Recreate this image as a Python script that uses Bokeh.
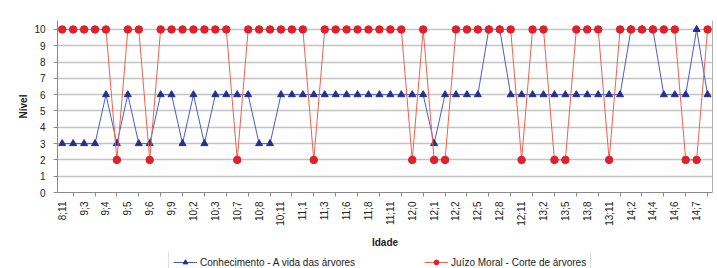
import math
from bokeh.plotting import figure
from bokeh.layouts import column
from bokeh.models import FixedTicker, Legend, LegendItem, LinearAxis, Range1d
from bokeh.embed import file_html
from bokeh.resources import INLINE

# Age labels (years;months) shown on every second point
age_labels = ["8;11", "9;3", "9;4", "9;5", "9;6", "9;9", "10;2", "10;3", "10;7", "10;8",
              "10;11", "11;1", "11;3", "11;6", "11;8", "11;11", "12;0", "12;1", "12;2", "12;5",
              "12;8", "12;11", "13;2", "13;5", "13;8", "13;11", "14;2", "14;4", "14;6", "14;7"]

conhecimento = [3, 3, 3, 3, 6, 3, 6, 3, 3, 6,
                6, 3, 6, 3, 6, 6, 6, 6, 3, 3,
                6, 6, 6, 6, 6, 6, 6, 6, 6, 6,
                6, 6, 6, 6, 3, 6, 6, 6, 6, 10,
                10, 6, 6, 6, 6, 6, 6, 6, 6, 6,
                6, 6, 10, 10, 10, 6, 6, 6, 10, 6]

juizo = [10, 10, 10, 10, 10, 2, 10, 10, 2, 10,
         10, 10, 10, 10, 10, 10, 2, 10, 10, 10,
         10, 10, 10, 2, 10, 10, 10, 10, 10, 10,
         10, 10, 2, 10, 2, 2, 10, 10, 10, 10,
         10, 10, 2, 10, 10, 2, 2, 10, 10, 10,
         2, 10, 10, 10, 10, 10, 10, 2, 2, 10]

series_names = ["Conhecimento - A vida das árvores", "Juízo Moral - Corte de árvores"]

y_ticks = list(range(0, 11))
idx = list(range(len(conhecimento)))

FONT = "Liberation Sans"
BLUE_LINE, BLUE_MARK = "#4a5cc4", "#24308f"
RED_LINE, RED_MARK = "#f0604e", "#e0202a"


def draw_series(fig):
    r = []
    r.append(fig.line(idx, conhecimento, line_color=BLUE_LINE, line_width=1))
    r.append(fig.scatter(idx, conhecimento, marker="triangle", size=7,
                         fill_color=BLUE_MARK, line_color=BLUE_MARK))
    r.append(fig.line(idx, juizo, line_color=RED_LINE, line_width=1))
    r.append(fig.scatter(idx, juizo, marker="circle", size=7.5,
                         fill_color=RED_MARK, line_color=RED_MARK))
    return r


p = figure(width=717, height=252, output_backend="svg", toolbar_location=None,
           x_range=Range1d(-0.43, len(idx) - 0.55), y_range=Range1d(0, 10.55),
           min_border_left=57, min_border_right=5, min_border_top=20, min_border_bottom=60)
p.outline_line_color = None
p.background_fill_color = "white"
p.border_fill_color = "white"

# grid
p.xgrid.visible = False
p.ygrid.ticker = FixedTicker(ticks=y_ticks)
p.ygrid.grid_line_color = "#c4c4c4"
p.ygrid.grid_line_width = 1.5

# y axis
ya = p.yaxis[0]
ya.ticker = FixedTicker(ticks=y_ticks)
ya.axis_line_color = "#8a8a8a"
ya.major_tick_line_color = "#8a8a8a"
ya.major_tick_out = 4
ya.major_tick_in = 0
ya.minor_tick_line_color = None
ya.major_label_text_font = FONT
ya.major_label_text_font_size = "10px"
ya.major_label_text_color = "#222222"
ya.major_label_standoff = 8
ya.axis_label = "Nível"
ya.axis_label_text_font = FONT
ya.axis_label_text_font_size = "10px"
ya.axis_label_text_font_style = "bold"
ya.axis_label_text_color = "#222222"
ya.axis_label_standoff = 2

# x axis
xa = p.xaxis[0]
xa.ticker = FixedTicker(ticks=idx[::2], minor_ticks=idx[1::2])
xa.major_label_overrides = {i: lab for i, lab in zip(idx[::2], age_labels)}
xa.major_label_orientation = math.pi / 2
xa.axis_line_color = "#8a8a8a"
xa.major_tick_line_color = None
xa.major_tick_out = 0
xa.major_tick_in = 0
xa.minor_tick_line_color = "#8a8a8a"
xa.minor_tick_out = 4
xa.minor_tick_in = 0
xa.major_label_text_font = FONT
xa.major_label_text_font_size = "10px"
xa.major_label_text_color = "#222222"
xa.major_label_standoff = 5
xa.axis_label = "Idade"
xa.axis_label_text_font = FONT
xa.axis_label_text_font_size = "10px"
xa.axis_label_text_font_style = "bold"
xa.axis_label_text_color = "#222222"
xa.axis_label_standoff = 8

# right border line
ra = LinearAxis(ticker=FixedTicker(ticks=[]), major_label_text_font_size="0px",
                major_tick_line_color=None, minor_tick_line_color=None,
                axis_line_color="#b0b0b0")
p.add_layout(ra, "right")

draw_series(p)

# legend strip below the chart (its own copy of the series lies outside its visible range)
pl = figure(width=717, height=16, output_backend="svg", toolbar_location=None,
            x_range=Range1d(-1000, -999), y_range=Range1d(0, 10.55),
            x_axis_type=None, y_axis_type=None,
            min_border_left=0, min_border_right=0, min_border_top=0, min_border_bottom=0)
pl.outline_line_color = None
pl.grid.visible = False
bl, bm, rl, rm = draw_series(pl)

legend = Legend(items=[
    LegendItem(label=series_names[0], renderers=[bl, bm]),
    LegendItem(label=series_names[1], renderers=[rl, rm]),
], orientation="horizontal", location=(111, -5), padding=4, margin=0, spacing=69,
    glyph_width=24, glyph_height=12, label_height=12, label_standoff=3,
    label_text_font=FONT, label_text_font_size="10px", label_text_color="#222222",
    border_line_color="#bcbcbc", background_fill_color="white", background_fill_alpha=1)
pl.add_layout(legend)

layout = column(p, pl, spacing=0)
open("out.html", "w").write(file_html(layout, INLINE))
